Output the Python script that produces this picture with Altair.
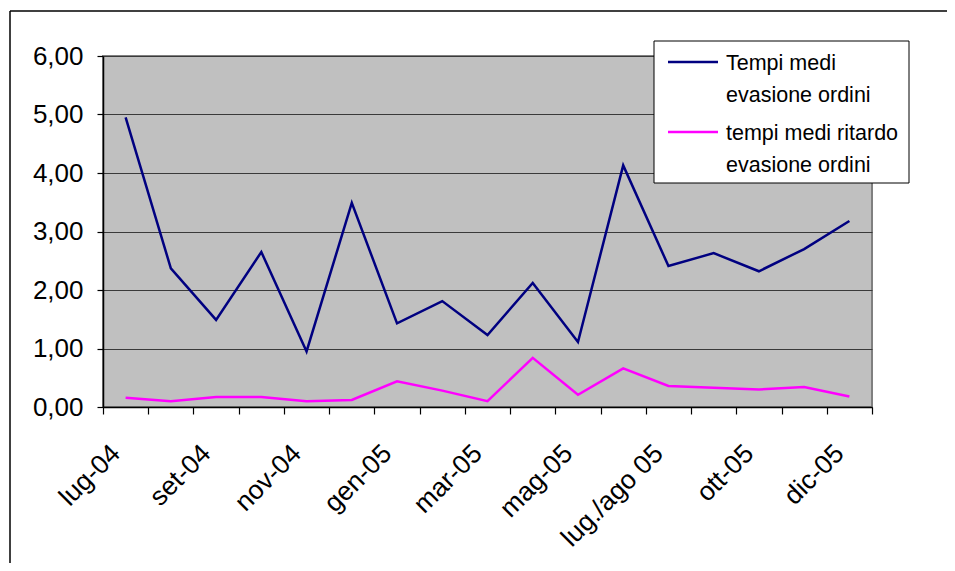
import altair as alt
import pandas as pd

categories = ["lug-04", "ago-04", "set-04", "ott-04", "nov-04", "dic-04",
              "gen-05", "feb-05", "mar-05", "apr-05", "mag-05", "giu-05",
              "lug./ago 05", "set-05", "ott-05", "nov-05", "dic-05"]
series_names = ["Tempi medi\nevasione ordini", "tempi medi ritardo\nevasione ordini"]
tempi_medi = [4.95, 2.37, 1.49, 2.65, 0.95, 3.49, 1.43, 1.81, 1.23, 2.12,
              1.11, 4.13, 2.41, 2.63, 2.32, 2.70, 3.18]
tempi_ritardo = [0.16, 0.10, 0.17, 0.17, 0.10, 0.12, 0.44, 0.28, 0.10, 0.84,
                 0.21, 0.66, 0.36, 0.33, 0.30, 0.34, 0.18]
y_ticks = [0, 1, 2, 3, 4, 5, 6]
colors = ["#000080", "#FF00FF"]

rows = []
for s, vals in zip(series_names, [tempi_medi, tempi_ritardo]):
    for c, v in zip(categories, vals):
        rows.append({"cat": c, "value": v, "series": s})
df = pd.DataFrame(rows)

shown = categories[::2]
label_expr = "indexof([" + ",".join("'" + c + "'" for c in shown) + "], datum.value) >= 0 ? datum.value : ''"

FONT = "Liberation Sans"
color_scale = alt.Scale(domain=series_names, range=colors)

lines = alt.Chart(df).mark_line(strokeWidth=2.5).encode(
    x=alt.X("cat:N", sort=categories, bandPosition=0.5,
            scale=alt.Scale(type="band", paddingInner=0, paddingOuter=0),
            axis=alt.Axis(title=None, tickBand="extent", labelAngle=-45,
                          labelAlign="right", labelBaseline="middle",
                          labelPadding=35, labelOffset=-10, labelExpr=label_expr,
                          labelFontSize=26.5, labelFont=FONT, labelColor="black",
                          labelOverlap=False, labelBound=False, labelFlush=False,
                          domainColor="black", domainWidth=1.5,
                          tickColor="black", tickSize=7, tickWidth=1.2, grid=False)),
    y=alt.Y("value:Q", scale=alt.Scale(domain=[0, 6], nice=False, zero=True),
            axis=alt.Axis(title=None, values=y_ticks,
                          labelExpr="replace(format(datum.value, '.2f'), '.', ',')",
                          labelFontSize=26, labelFont=FONT, labelColor="black",
                          labelPadding=14, tickSize=6, tickColor="black",
                          tickWidth=1.2, domainColor="black", domainWidth=1.5,
                          grid=True, gridColor="#3a3a3a", gridWidth=1)),
    color=alt.Color("series:N", scale=color_scale, legend=None),
)

one = pd.DataFrame({"a": [0]})
frame_left = alt.Chart(one).mark_rule(color="black", strokeWidth=1.5).encode(
    x=alt.value(-93), y=alt.value(-45), y2=alt.value(520))
frame_top = alt.Chart(one).mark_rule(color="black", strokeWidth=1.5).encode(
    x=alt.value(-93), x2=alt.value(844), y=alt.value(-45))

legend_box = alt.Chart(one).mark_rect(fill="white", stroke="black", strokeWidth=1).encode(
    x=alt.value(551), x2=alt.value(806), y=alt.value(-15), y2=alt.value(127))

leg_df = pd.DataFrame({"series": series_names})
leg_y = alt.Y("series:N", sort=series_names,
              scale=alt.Scale(type="point", domain=series_names, range=[6, 76], padding=0),
              axis=None)
leg_sym = alt.Chart(leg_df).mark_rule(strokeWidth=2.5).encode(
    x=alt.value(565), x2=alt.value(615), y=leg_y,
    color=alt.Color("series:N", scale=color_scale, legend=None))
leg_txt = alt.Chart(leg_df).mark_text(align="left", baseline="alphabetic", dy=8,
                                      lineBreak="\n", lineHeight=31.5,
                                      fontSize=21.5, font=FONT, color="black").encode(
    x=alt.value(623), y=leg_y, text="series:N")

legend = alt.layer(legend_box, leg_sym, leg_txt)

chart = alt.layer(frame_left, frame_top, lines, legend).resolve_scale(
    y="independent"
).properties(
    width=769, height=351,
    autosize=alt.AutoSizeParams(type="none"),
    padding={"left": 95, "top": 48, "right": 75, "bottom": 156},
    background="white",
).configure_view(
    fill="#C0C0C0", stroke="#808080", strokeWidth=2
)

chart.save("out.html", embed_options={"renderer": "svg", "actions": False})
